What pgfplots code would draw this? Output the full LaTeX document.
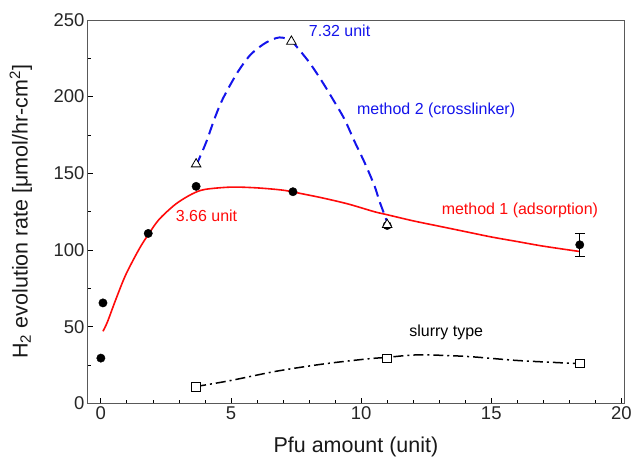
\documentclass[border=0pt]{standalone}
\usepackage{fontspec}
\setmainfont{Liberation Sans}
\usepackage{pgfplots}
\pgfplotsset{compat=1.18}
\definecolor{myblue}{RGB}{20,20,235}
\definecolor{myred}{RGB}{255,10,10}
\begin{document}
\begin{tikzpicture}
\begin{axis}[
  scale only axis, width=537pt, height=384pt,
  xmin=-0.5, xmax=20.1, ymin=0, ymax=250,
  xtick={0,5,10,15,20}, ytick={0,50,100,150,200,250},
  minor x tick num=4, minor y tick num=1,
  tick align=inside, xtick pos=bottom, ytick pos=left,
  major tick length=5pt, minor tick length=3pt,
  tick style={black, line width=0.8pt},
  axis line style={black!65, line width=0.9pt},
  /pgf/number format/assume math mode=true,
  ticklabel style={font=\fontsize{18.5}{20}\selectfont, text=black!85},
  xlabel={Pfu amount (unit)},
  ylabel={H\textsubscript{2} evolution rate [μmol/hr-cm\textsuperscript{2}]},
  label style={font=\fontsize{21.5}{24}\selectfont, text=black!90},
  xlabel style={at={(axis description cs:0.5,-0.115)}, anchor=center},
  ylabel style={at={(axis description cs:-0.125,0.5)}, anchor=center},
]
% method 1 fit (red)
\addplot[myred, line width=1.6pt, smooth, tension=0.5] coordinates {
 (0.08,47) (0.25,53) (0.58,68) (0.96,84) (1.47,100.6) (1.82,110) (2.24,120)
 (2.88,130) (3.5,136.5) (4.0,139.5) (5.0,141) (6.0,140.5) (7.0,139) (7.63,137)
 (8.5,134) (9.5,130) (10.5,125) (11.0,123) (12.0,119) (13.0,115.5) (14.0,112)
 (15.0,108.5) (16.0,105.5) (17.0,102.5) (18.4,99)
};
% method 2 fit (blue dashed)
\addplot[myblue, line width=2pt, dash pattern=on 11pt off 6pt, smooth, tension=0.5] coordinates {
 (3.66,155) (4.04,170) (4.36,185.3) (4.68,198.4) (5.25,215.8) (5.77,227.7)
 (6.35,235.3) (6.86,238.6) (7.31,236.8) (7.43,234.5) (8.01,222.3) (8.52,209.3)
 (8.91,198.4) (9.36,185.3) (9.74,171) (10.13,157.1) (10.51,142) (10.7,132)
 (10.96,120) (11.0,117)
};
% slurry fit (black dash-dot)
\addplot[black, line width=1.5pt, dash pattern=on 10pt off 4pt on 2pt off 4pt, smooth, tension=0.5] coordinates {
 (3.66,11) (4.93,14.7) (6.73,20.9) (8.52,25.6) (10.19,28.9) (11,30)
 (12.2,31.6) (14.04,30.6) (15.96,28) (17.75,26.4) (18.4,26)
};
% method 1 data
\addplot[only marks, mark=*, mark size=4.2pt, black] coordinates {
 (0,29.5) (0.08,65.5) (1.82,110.8) (3.66,141.5) (7.38,138) (11,116)
};
\addplot[only marks, mark=*, mark size=4.2pt, black,
  error bars/.cd, y dir=both, y explicit,
  error bar style={line width=1pt},
  error mark options={rotate=90, mark size=5pt, line width=1pt}]
  coordinates {(18.4,103.4) +- (0,7.5)};
% method 2 data
\addplot[only marks, mark=triangle*, mark size=5.5pt, black, mark options={fill=white, line width=0.8pt}] coordinates {
 (3.66,156) (7.32,236) (11,116.5)
};
% slurry data
\addplot[only marks, mark=square*, mark size=4.3pt, black, mark options={fill=white, line width=0.8pt}] coordinates {
 (3.66,10.8) (11,29.3) (18.4,26.1)
};
\node[myblue, font=\fontsize{16}{18}\selectfont, anchor=west] at (axis cs:7.86,242.7) {7.32 unit};
\node[myblue, font=\fontsize{16}{18}\selectfont] at (axis cs:12.88,191) {method 2 (crosslinker)};
\node[myred, font=\fontsize{16}{18}\selectfont] at (axis cs:4.06,122.3) {3.66 unit};
\node[myred, font=\fontsize{16}{18}\selectfont] at (axis cs:16.1,126) {method 1 (adsorption)};
\node[black, font=\fontsize{16}{18}\selectfont] at (axis cs:13.27,46.3) {slurry type};
\end{axis}
\path ([xshift=-88pt,yshift=-53pt]current axis.south west) rectangle ([xshift=10pt,yshift=20pt]current axis.north east);
\end{tikzpicture}
\end{document}
